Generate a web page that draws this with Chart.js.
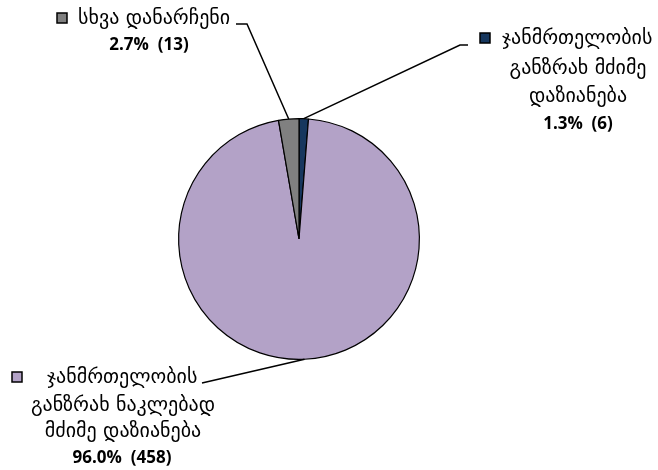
<!DOCTYPE html>
<html>
<head>
<meta charset="utf-8">
<script src="https://cdn.jsdelivr.net/npm/chart.js@4"></script>
<style>
  html, body { margin: 0; padding: 0; background: #fff; }
  #wrap { width: 658px; height: 470px; position: relative; }
</style>
</head>
<body>
<div id="wrap"><canvas id="pie"></canvas></div>
<script>
// slices, clockwise from 12 o'clock
const categories = [
  ['ჯანმრთელობის', 'განზრახ მძიმე', 'დაზიანება'],
  ['ჯანმრთელობის', 'განზრახ ნაკლებად', 'მძიმე დაზიანება'],
  ['სხვა დანარჩენი']
];
const counts = [6, 458, 13];
const percents = ['1.3%', '96.0%', '2.7%'];
const colors = ['#17375E', '#B3A2C7', '#808080'];

// where each label block sits and where its leader line starts
const labelSpots = [
  { sq: [480, 33], lines: [[502, 39, 'left'], [578, 69], [578, 97], [578, 124]], lead: [[468, 45], [460, 45]] },
  { sq: [12, 372], lines: [[47, 378, 'left'], [123, 406], [123, 432], [122, 458]], lead: [[202, 383]] },
  { sq: [57, 13], lines: [[78, 19, 'left'], [149, 45]], lead: [[236, 24], [247, 24]] }
];

const georgianFont = '20px "DejaVu Sans"';
const numberFont = 'bold 17px "Open Sans"';

const outsideLabels = {
  id: 'outsideLabels',
  afterDatasetsDraw(chart) {
    const ctx = chart.ctx;
    const arcs = chart.getDatasetMeta(0).data;
    ctx.save();
    arcs.forEach((arc, i) => {
      const spot = labelSpots[i];
      const p = arc.getProps(['x', 'y', 'startAngle', 'endAngle', 'outerRadius'], true);
      const mid = (p.startAngle + p.endAngle) / 2;
      const ex = p.x + Math.cos(mid) * p.outerRadius;
      const ey = p.y + Math.sin(mid) * p.outerRadius;

      //leader line
      ctx.strokeStyle = '#000';
      ctx.lineWidth = 1.5;
      ctx.beginPath();
      spot.lead.forEach((pt, k) => k === 0 ? ctx.moveTo(pt[0], pt[1]) : ctx.lineTo(pt[0], pt[1]));
      ctx.lineTo(ex, ey);
      ctx.stroke();

      //legend square
      ctx.fillStyle = colors[i];
      ctx.fillRect(spot.sq[0], spot.sq[1], 10, 10);
      ctx.lineWidth = 1.5;
      ctx.strokeRect(spot.sq[0], spot.sq[1], 10, 10);

      //text
      ctx.fillStyle = '#000';
      ctx.textBaseline = 'middle';
      const textLines = categories[i].concat([percents[i] + '  (' + counts[i] + ')']);
      textLines.forEach((t, k) => {
        const ln = spot.lines[k];
        ctx.font = k === textLines.length - 1 ? numberFont : georgianFont;
        ctx.textAlign = ln[2] || 'center';
        ctx.fillText(t, ln[0], ln[1]);
      });
    });
    ctx.restore();
  }
};

new Chart(document.getElementById('pie'), {
  type: 'pie',
  data: {
    labels: categories.map(c => c.join(' ')),
    datasets: [{
      data: counts,
      backgroundColor: colors,
      borderColor: '#000',
      borderWidth: 1.2
    }]
  },
  options: {
    responsive: true,
    maintainAspectRatio: false,
    animation: false,
    layout: { padding: { left: 178, right: 238, top: 118, bottom: 110 } },
    plugins: { legend: { display: false }, tooltip: { enabled: false } }
  },
  plugins: [outsideLabels]
});
</script>
</body>
</html>
